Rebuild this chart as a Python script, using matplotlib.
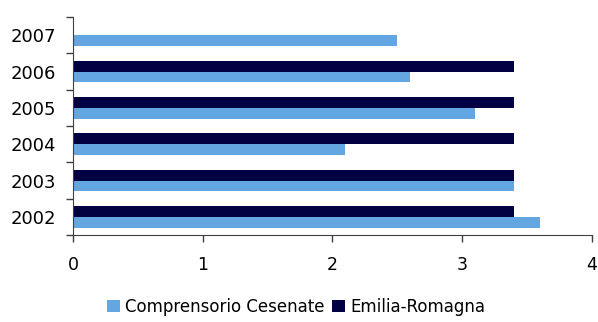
import matplotlib.pyplot as plt
import numpy as np

years = ["2002", "2003", "2004", "2005", "2006", "2007"]
cesenate = [3.6, 3.4, 2.1, 3.1, 2.6, 2.5]
emilia_romagna = [3.4, 3.4, 3.4, 3.4, 3.4, np.nan]

light_blue = "#64A6E2"
navy = "#000042"

fig = plt.figure(figsize=(5.98, 3.22), dpi=100)
ax = fig.add_axes([0.122, 0.270, 0.868, 0.677])

y = np.arange(len(years))
h = 0.3
ax.barh(y - h / 2, cesenate, height=h, color=light_blue, label="Comprensorio Cesenate")
ax.barh(y + h / 2, emilia_romagna, height=h, color=navy, label="Emilia-Romagna")

ax.set_xlim(0, 4)
ax.set_ylim(-0.5, len(years) - 0.5)
ax.set_xticks([0, 1, 2, 3, 4])
ax.set_yticks(y)
ax.set_yticklabels(years)
ax.set_yticks(np.arange(-0.5, len(years), 1), minor=True)
ax.tick_params(axis="y", which="major", length=0, labelsize=13, pad=12)
ax.tick_params(axis="y", which="minor", length=5, width=1, color="#404040")
ax.tick_params(axis="x", length=5, width=1, color="#404040", labelsize=12.5, pad=10)

for s in ("top", "right"):
    ax.spines[s].set_visible(False)
for s in ("left", "bottom"):
    ax.spines[s].set_color("#404040")

fig.legend(loc="center", bbox_to_anchor=(0.495, 0.047), ncol=2, frameon=False,
           fontsize=12, handlelength=0.8, handleheight=0.8, handletextpad=0.3,
           columnspacing=0.4, borderaxespad=0)

fig.savefig("out.png", dpi=100)
